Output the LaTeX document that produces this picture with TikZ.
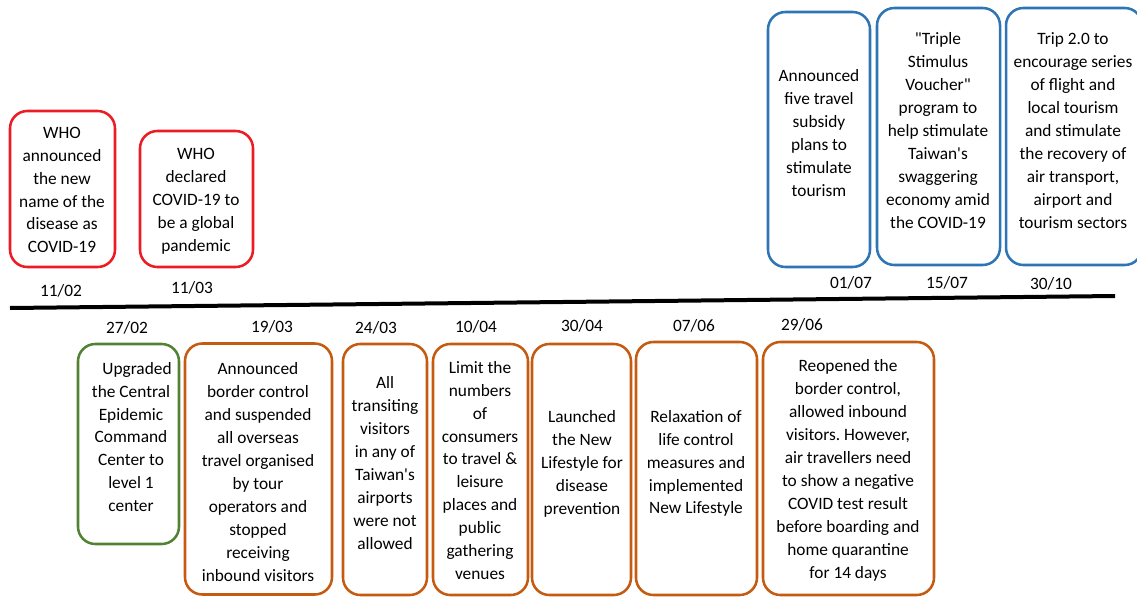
\documentclass[tikz,border=0pt]{standalone}
\usepackage{fontspec}
\setmainfont{Carlito}
\frenchspacing
\newcommand{\ap}{\textquotesingle}
\newcommand{\dq}{\textquotedbl}
\definecolor{cred}{HTML}{EC1C24}
\definecolor{cblue}{HTML}{2E75B6}
\definecolor{cgreen}{HTML}{548235}
\definecolor{corange}{HTML}{C55A11}
\begin{document}
\begin{tikzpicture}[x=0.75pt,y=-0.75pt,
  evbox/.style={draw=#1, line width=1.9pt, rounded corners=13pt, inner sep=0pt},
  evtext/.style={align=center, inner sep=0pt, font=\fontsize{13pt}{17.2pt}\selectfont},
  datelbl/.style={inner sep=0pt, font=\fontsize{13pt}{16pt}\selectfont}]
\useasboundingbox (0,0) rectangle (1137,596);
% timeline
\coordinate (L) at (10,308);
\coordinate (R) at (1115,296);
\draw[line width=3pt] (L) -- (R);
% top boxes
\node[evbox=cred, minimum width=78.75pt, minimum height=117pt] (b1) at (62.5,189) {};
\node[evtext] (t1) at (62,190) {WHO\\announced\\the new\\name of the\\disease as\\COVID-19};
\node[datelbl] (d1) at (61,291) {11/02};
\node[evbox=cred, minimum width=84.75pt, minimum height=102pt] (b2) at (196.5,199) {};
\node[evtext] (t2) at (196,201) {WHO\\declared\\COVID-19 to\\be a global\\pandemic};
\node[datelbl] (d2) at (192,288) {11/03};
\node[evbox=cblue, minimum width=76.5pt, minimum height=191.25pt] (b3) at (819,139.5) {};
\node[evtext] (t3) at (819,133) {Announced\\five travel\\subsidy\\plans to\\stimulate\\tourism};
\node[datelbl] (d3) at (851,283) {01/07};
\node[evbox=cblue, minimum width=92.25pt, minimum height=192.75pt] (b4) at (938.5,136.5) {};
\node[evtext] (t4) at (938,130.5) {\dq Triple\\Stimulus\\Voucher\dq\\program to\\help stimulate\\Taiwan\ap s\\swaggering\\economy amid\\the COVID-19};
\node[datelbl] (d4) at (947,283) {15/07};
\node[evbox=cblue, minimum width=102pt, minimum height=192.75pt] (b5) at (1074,136.5) {};
\node[evtext] (t5) at (1073,130.5) {Trip 2.0 to\\encourage series\\of flight and\\local tourism\\and stimulate\\the recovery of\\air transport,\\airport and\\tourism sectors};
\node[datelbl] (d5) at (1051,284) {30/10};
% bottom boxes
\node[evbox=cgreen, minimum width=75.75pt, minimum height=150pt] (b6) at (128.5,444) {};
\node[evtext] (t6) at (131,437) {\hspace*{9pt}Upgraded\\the Central\\Epidemic\\Command\\Center to\\level 1\\center};
\node[datelbl] (d6) at (127,328) {27/02};
\node[evbox=corange, minimum width=110.25pt, minimum height=188.25pt] (b7) at (258.5,469) {};
\node[evtext] (t7) at (258,472) {Announced\\border control\\and suspended\\all overseas\\travel organised\\by tour\\operators and\\stopped\\receiving\\inbound visitors};
\node[datelbl] (d7) at (272,327) {19/03};
\node[evbox=corange, minimum width=63pt, minimum height=188.25pt] (b8) at (385,469.5) {};
\node[evtext] (t8) at (385,463) {All\\transiting\\visitors\\in any of\\Taiwan\ap s\\airports\\were not\\allowed};
\node[datelbl] (d8) at (376,328) {24/03};
\node[evbox=corange, minimum width=71.25pt, minimum height=188.25pt] (b9) at (480.5,469.5) {};
\node[evtext] (t9) at (480,470.5) {Limit the\\numbers\\of\\consumers\\to travel \&\\leisure\\places and\\public\\gathering\\venues};
\node[datelbl] (d9) at (476,327) {10/04};
\node[evbox=corange, minimum width=74.25pt, minimum height=188.25pt] (b10) at (581.5,469.5) {};
\node[evtext] (t10) at (582,464) {Launched\\the New\\Lifestyle for\\disease\\prevention};
\node[datelbl] (d10) at (582,326) {30/04};
\node[evbox=corange, minimum width=90.75pt, minimum height=189.75pt] (b11) at (696.5,468.5) {};
\node[evtext] (t11) at (696,463.5) {Relaxation of\\life control\\measures and\\implemented\\New Lifestyle};
\node[datelbl] (d11) at (694,326) {07/06};
\node[evbox=corange, minimum width=128.25pt, minimum height=189.75pt] (b12) at (848.5,468.5) {};
\node[evtext] (t12) at (848,470.5) {Reopened the\\border control,\\allowed inbound\\visitors. However,\\air travellers need\\to show a negative\\COVID test result\\before boarding and\\home quarantine\\for 14 days};
\node[datelbl] (d12) at (802,325) {29/06};
\end{tikzpicture}
\end{document}
